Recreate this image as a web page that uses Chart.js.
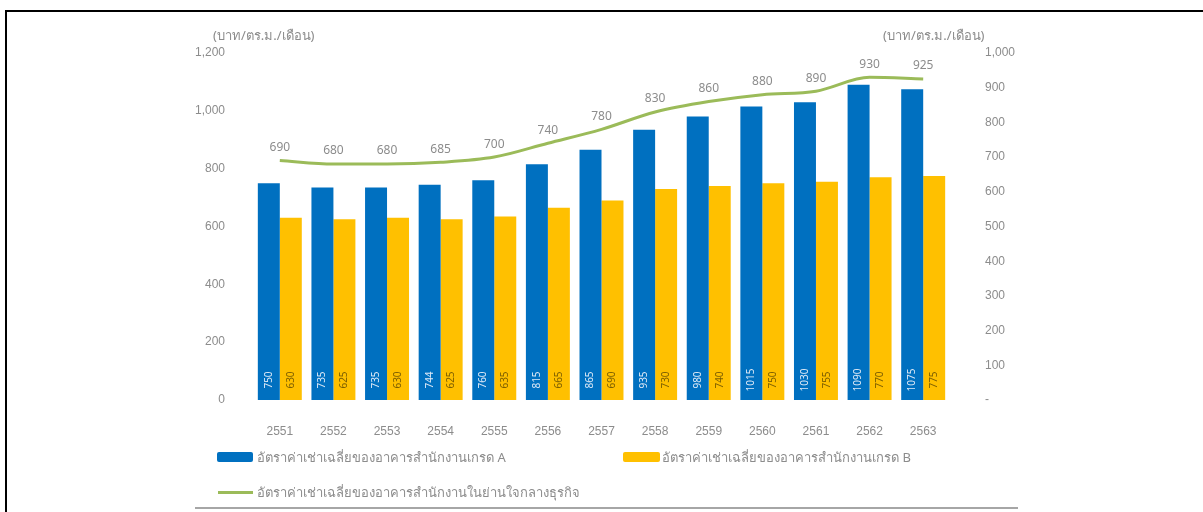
<!doctype html>
<html lang="th">

<head>
    <meta charset="utf-8">
    <title>อัตราค่าเช่าอาคารสำนักงาน</title>
    <script src="https://cdn.jsdelivr.net/npm/chart.js"></script>
    <style>
        body { margin: 0; width: 1203px; height: 512px; background: #fff; position: relative; overflow: hidden;
               font-family: "Noto Sans", "DejaVu Sans", sans-serif; }
        #frame { position: absolute; left: 5px; top: 10px; width: 1210px; height: 510px;
                 border-left: 2px solid #000; border-top: 2px solid #000; }
        #div_chart { position: absolute; left: 0; top: 0; width: 1203px; height: 512px; }
        .unit { position: absolute; font-size: 13px; color: #8c8c8c; top: 25px; white-space: nowrap; }
        .leg { position: absolute; font-size: 13px; color: #8c8c8c; white-space: nowrap; line-height: 18px; }
        .sw { position: absolute; }
        #bottom_line { position: absolute; left: 195px; top: 507px; width: 823px; height: 2px; background: #a6a6a6; }
    </style>
</head>

<body>
    <div id="frame"></div>
    <div id="div_chart"><canvas id="rent"></canvas></div>

    <div class="unit" style="left:213px">(บาท/ตร.ม./เดือน)</div>
    <div class="unit" style="left:883px">(บาท/ตร.ม./เดือน)</div>

    <div class="sw" style="left:217px;top:452px;width:36px;height:10px;background:#0070c0;border-radius:2px"></div>
    <div class="leg" style="left:257px;top:448px">อัตราค่าเช่าเฉลี่ยของอาคารสำนักงานเกรด A</div>
    <div class="sw" style="left:623px;top:452px;width:37px;height:10px;background:#ffc000;border-radius:2px"></div>
    <div class="leg" style="left:662px;top:448px">อัตราค่าเช่าเฉลี่ยของอาคารสำนักงานเกรด B</div>
    <div class="sw" style="left:218px;top:491px;width:35px;height:3px;background:#9bbb59"></div>
    <div class="leg" style="left:257px;top:483px">อัตราค่าเช่าเฉลี่ยของอาคารสำนักงานในย่านใจกลางธุรกิจ</div>
    <div id="bottom_line"></div>

    <script>
        const years = ["2551", "2552", "2553", "2554", "2555", "2556", "2557", "2558", "2559", "2560", "2561", "2562", "2563"];
        const grade_a = [750, 735, 735, 744, 760, 815, 865, 935, 980, 1015, 1030, 1090, 1075];
        const grade_b = [630, 625, 630, 625, 635, 665, 690, 730, 740, 750, 755, 770, 775];
        const cbd = [690, 680, 680, 685, 700, 740, 780, 830, 860, 880, 890, 930, 925];

        const bar_font = '10px "Noto Sans", "DejaVu Sans", sans-serif';
        const line_font = '12px "Noto Sans", "DejaVu Sans", sans-serif';

        // write values on the bars and above the line
        const valueLabels = {
            id: 'valueLabels',
            afterDatasetsDraw(chart) {
                const ctx = chart.ctx;
                const bottom = chart.chartArea.bottom;
                ctx.save();
                ctx.textAlign = 'center';
                ctx.textBaseline = 'middle';
                chart.data.datasets.forEach((ds, di) => {
                    const meta = chart.getDatasetMeta(di);
                    meta.data.forEach((el, i) => {
                        const v = ds.data[i];
                        if (ds.type == 'line') {
                            ctx.font = line_font;
                            ctx.fillStyle = '#8c8c8c';
                            ctx.fillText(v, el.x, el.y - 13);
                        } else {
                            ctx.save();
                            ctx.font = bar_font;
                            ctx.translate(el.x, bottom - 20);
                            ctx.rotate(-Math.PI / 2);
                            ctx.fillStyle = di == 0 ? '#dde9f6' : '#7f6000';
                            ctx.fillText(v, 0, 0);
                            ctx.restore();
                        }
                    });
                });
                ctx.restore();
            }
        };

        const ctx = document.getElementById('rent');
        new Chart(ctx, {
            data: {
                labels: years,
                datasets: [{
                    type: 'bar',
                    label: 'อัตราค่าเช่าเฉลี่ยของอาคารสำนักงานเกรด A',
                    data: grade_a,
                    backgroundColor: '#0070c0',
                    categoryPercentage: 0.82,
                    barPercentage: 1.0,
                    yAxisID: 'y',
                    order: 2
                }, {
                    type: 'bar',
                    label: 'อัตราค่าเช่าเฉลี่ยของอาคารสำนักงานเกรด B',
                    data: grade_b,
                    backgroundColor: '#ffc000',
                    categoryPercentage: 0.82,
                    barPercentage: 1.0,
                    yAxisID: 'y',
                    order: 2
                }, {
                    type: 'line',
                    label: 'อัตราค่าเช่าเฉลี่ยของอาคารสำนักงานในย่านใจกลางธุรกิจ',
                    data: cbd,
                    borderColor: '#9bbb59',
                    borderWidth: 3,
                    pointRadius: 0,
                    cubicInterpolationMode: 'monotone',
                    yAxisID: 'y1',
                    order: 1
                }]
            },
            options: {
                responsive: true,
                maintainAspectRatio: false,
                animation: false,
                layout: { padding: { top: 53 } },
                plugins: {
                    legend: { display: false },
                    tooltip: { enabled: false }
                },
                scales: {
                    x: {
                        grid: { display: false },
                        border: { display: false },
                        ticks: { color: '#8c8c8c', font: { size: 12 }, padding: 16 },
                        afterFit: (s) => { s.height = 112; }
                    },
                    y: {
                        position: 'left',
                        min: 0,
                        max: 1200,
                        grid: { display: false },
                        border: { display: false },
                        ticks: { stepSize: 200, color: '#8c8c8c', font: { size: 12 }, padding: 20 },
                        afterFit: (s) => { s.width = 253; }
                    },
                    y1: {
                        position: 'right',
                        min: 0,
                        max: 1000,
                        grid: { display: false },
                        border: { display: false },
                        ticks: {
                            stepSize: 100, color: '#8c8c8c', font: { size: 12 }, padding: 27,
                            callback: (v) => v == 0 ? '-' : v.toLocaleString('en-US')
                        },
                        afterFit: (s) => { s.width = 253; }
                    }
                }
            },
            plugins: [valueLabels]
        });
    </script>
</body>

</html>
